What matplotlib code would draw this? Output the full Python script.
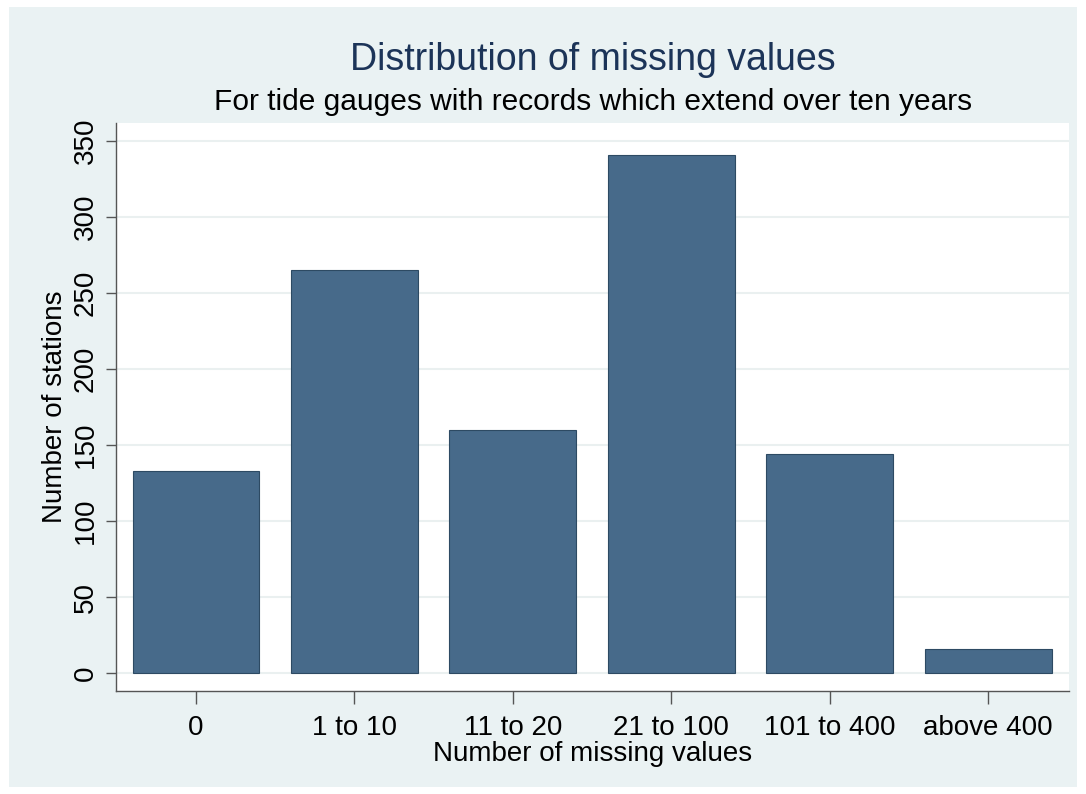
import matplotlib
matplotlib.use("Agg")
import matplotlib.pyplot as plt

categories = ["0", "1 to 10", "11 to 20", "21 to 100", "101 to 400", "above 400"]
stations = [133, 265, 160, 341, 144, 16]
yticks = [0, 50, 100, 150, 200, 250, 300, 350]

plt.rcParams['font.family'] = ['Liberation Sans', 'DejaVu Sans']

fig = plt.figure(figsize=(10.86, 7.94), dpi=100)
fig.patch.set_facecolor("white")
# light outer region like Stata's graph region
bg = plt.Rectangle((0.008, 0.009), 0.984, 0.982, transform=fig.transFigure,
                   facecolor="#eaf2f3", edgecolor="none", zorder=-10)
fig.patches.append(bg)

ax = fig.add_axes([0.1068, 0.1297, 0.8775, 0.7154])
ax.set_zorder(5)
ax.set_facecolor("white")
ax.set_axisbelow(True)
ax.yaxis.grid(True, color="#eaf0f0", linewidth=1.5)

x = range(len(categories))
ax.bar(x, stations, width=0.8, color="#476a8a", edgecolor="#2d4a63", linewidth=0.8)

ax.set_xlim(-0.505, 5.51)
ax.set_ylim(-11.8, 361.8)
ax.set_xticks(list(x))
ax.set_xticklabels(categories, fontsize=20)
ax.set_yticks(yticks)
ax.set_yticklabels([str(v) for v in yticks], fontsize=20, rotation=90, va="center")

for s in ["top", "right"]:
    ax.spines[s].set_visible(False)
for s in ["left", "bottom"]:
    ax.spines[s].set_color("#555555")
    ax.spines[s].set_linewidth(1.0)
ax.tick_params(axis="x", length=9, color="#555555", width=1.0, pad=8)
ax.tick_params(axis="y", length=7.5, color="#555555", width=1.0, pad=5)

ax.set_xlabel("Number of missing values", fontsize=20, labelpad=0)
ax.set_ylabel("Number of stations", fontsize=20, labelpad=3)

fig.text(0.546, 0.925, "Distribution of missing values", fontsize=27,
         color="#1c3458", ha="center", va="center")
fig.text(0.546, 0.872, "For tide gauges with records which extend over ten years",
         fontsize=21.5, color="black", ha="center", va="center")

fig.savefig("out.png", dpi=100, facecolor=fig.get_facecolor())
